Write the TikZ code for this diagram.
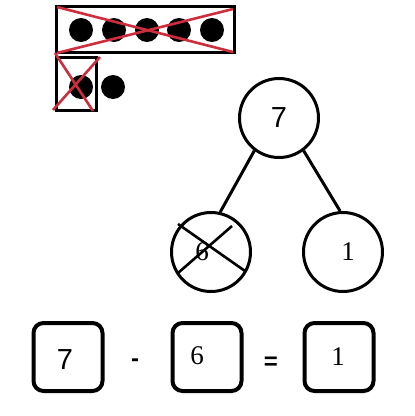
\documentclass[tikz,border=0pt]{standalone}
\usepackage{fontspec}
\setmainfont{Liberation Serif}
\newfontfamily\arialfont{Liberation Sans}
\definecolor{crossred}{RGB}{205,45,60}

\begin{document}
\begin{tikzpicture}[x=1pt,y=-1pt,
    circ/.style={circle,draw,line width=3pt,minimum size=79pt,inner sep=0pt},
    numbox/.style={draw,rounded corners=10pt,line width=4pt,minimum width=69pt,minimum height=68pt,inner sep=0pt},
    redx/.style={line width=2.6pt,draw=crossred},
    sansnum/.style={font=\arialfont\fontsize{29}{31}\selectfont},
    signnum/.style={font=\arialfont\bfseries\fontsize{24}{26}\selectfont},
    serifnum/.style={font=\fontsize{27}{30}\selectfont}]
    \useasboundingbox (0,0) rectangle (415,416);

    % Punkte oben
    \draw[line width=3pt] (56,6) rectangle (234,52);
    \foreach \x in {81,114,147,179,212}
        \fill (\x,30) circle (12pt);
    \draw[redx] (57,7) -- (233,52);
    \draw[redx] (57,53) -- (233,9);

    \draw[line width=3pt] (56,57) rectangle (96,110);
    \fill (81,87) circle (12pt);
    \fill (113,87) circle (12pt);
    \draw[redx] (53,110) -- (100,57);
    \draw[redx] (55,53) -- (93,111);

    % Zerlegung
    \node[circ,sansnum] (n7) at (279,118) {7};
    \node[circ] (n6) at (211,252) {};
    \node[circ] (n1) at (343,252) {};
    \node[serifnum] (t6) at (202,252) {6};
    \node[serifnum] (t1) at (348,252) {1};

    \draw[line width=3pt] (n7.233) -- (n6.77);
    \draw[line width=3pt] (n7.307) -- (n1.94);

    \draw[line width=2.6pt] (178,224) -- (245,271);
    \draw[line width=2.6pt] (232,226) -- (178,273);

    % Gleichung
    \node[numbox] (b1) at (68,357) {};
    \node[numbox] (b2) at (207,357) {};
    \node[numbox] (b3) at (339,357) {};
    \node[sansnum] (s7) at (65,360) {7};
    \node[signnum] (minus) at (135,363) {-};
    \node[serifnum] (s6) at (197,356) {6};
    \node[signnum] (gleich) at (271,363) {=};
    \node[serifnum] (s1) at (338,357) {1};
\end{tikzpicture}
\end{document}
